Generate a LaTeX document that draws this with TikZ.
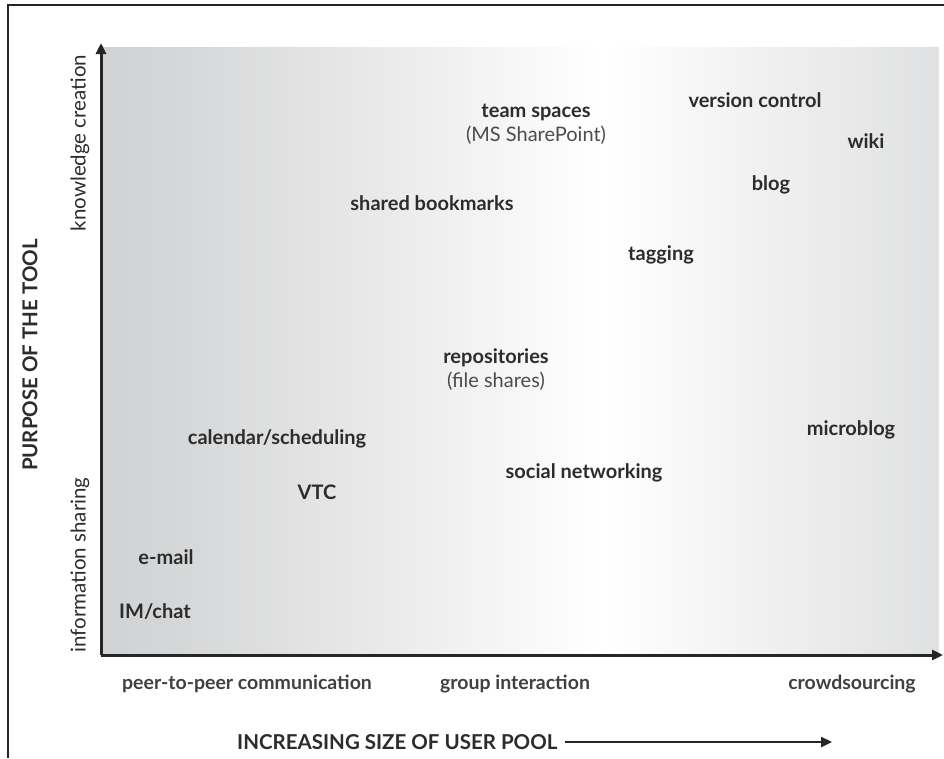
\documentclass[tikz,border=0pt]{standalone}
\usepackage{fontspec}
\setmainfont{Lato}
\usetikzlibrary{arrows.meta}
\definecolor{txt}{HTML}{2C2C2C}
\definecolor{edgeL}{HTML}{B4B5B7}
\definecolor{edgeR}{HTML}{BEC0C2}
\definecolor{midL}{HTML}{D6D7D8}
\definecolor{midR}{HTML}{DEDFE0}
\pgfdeclarehorizontalshading{bg}{100bp}{
  color(0bp)=(edgeL); color(30bp)=(midL); color(55bp)=(white); color(76bp)=(midR); color(100bp)=(edgeR)}
\tikzset{
  item/.style={font=\bfseries\fontsize{20}{24}\selectfont, text=txt, inner sep=0pt},
  sub/.style={font=\fontsize{20}{24}\selectfont, text=txt!85, inner sep=0pt},
  xlab/.style={font=\bfseries\fontsize{19.5}{24}\selectfont, text=txt!90, inner sep=0pt},
  ylab/.style={font=\fontsize{20.5}{24}\selectfont, text=txt, inner sep=0pt, rotate=90},
  title/.style={font=\bfseries\fontsize{20.5}{24}\selectfont, text=txt, inner sep=0pt},
  axis/.style={line width=3pt, black!85, -{Triangle[length=11pt,width=10pt]}}
}
\begin{document}
\begin{tikzpicture}[x=1pt,y=-1pt]
\useasboundingbox (0,0) rectangle (944,758);
\fill[white] (0,0) rectangle (944,758);
% outer frame (top and left visible)
\draw[line width=2.6pt, black!85] (8,758) -- (8,5) -- (944,5);
% shaded panel
\shade[shading=bg] (101,47) rectangle (938,655);
\draw[white!80!gray, line width=0.8pt] (938,47) -- (938,655);
% axes
\coordinate (o) at (101,655);
\coordinate (ytop) at (101,43);
\coordinate (xend) at (943,655);
\draw[axis] (o) -- (ytop);
\draw[axis] (o) -- (xend);
% items
\node[item] (vc) at (755,100) {version control};
\node[item] (ts) at (536,112) {team spaces};
\node[sub]  (tss) at (536,135) {(MS SharePoint)};
\node[item] (wiki) at (866,141) {wiki};
\node[item] (blog) at (771,185) {blog};
\node[item] (sb) at (432,203) {shared bookmarks};
\node[item] (tag) at (661,255) {tagging};
\node[item] (rep) at (496,358) {repositories};
\node[sub]  (reps) at (496,381) {(file shares)};
\node[item] (mb) at (851,430) {microblog};
\node[item] (cal) at (277,439) {calendar/scheduling};
\node[item] (sn) at (584,473) {social networking};
\node[item] (vtc) at (317,492) {VTC};
\node[item] (em) at (166,557) {e-mail};
\node[item] (im) at (155,612) {IM/chat};
% x-axis labels
\node[xlab] (p2p) at (247,684) {peer-to-peer communication};
\node[xlab] (gi) at (515,684) {group interaction};
\node[xlab] (cs) at (852,684) {crowdsourcing};
% y-axis labels
\node[ylab] (kc) at (80,143) {knowledge creation};
\node[ylab] (is) at (80,565) {information sharing};
\node[title, rotate=90] (pt) at (30,355) {PURPOSE OF THE TOOL};
% bottom title with arrow
\node[title, anchor=west] (isp) at (237,742) {INCREASING SIZE OF USER POOL};
\coordinate (isend) at (832,742);
\draw[line width=2.4pt, black!85, -{Triangle[length=11pt,width=10pt]}] ([xshift=7pt]isp.east) -- (isend);
\end{tikzpicture}
\end{document}
